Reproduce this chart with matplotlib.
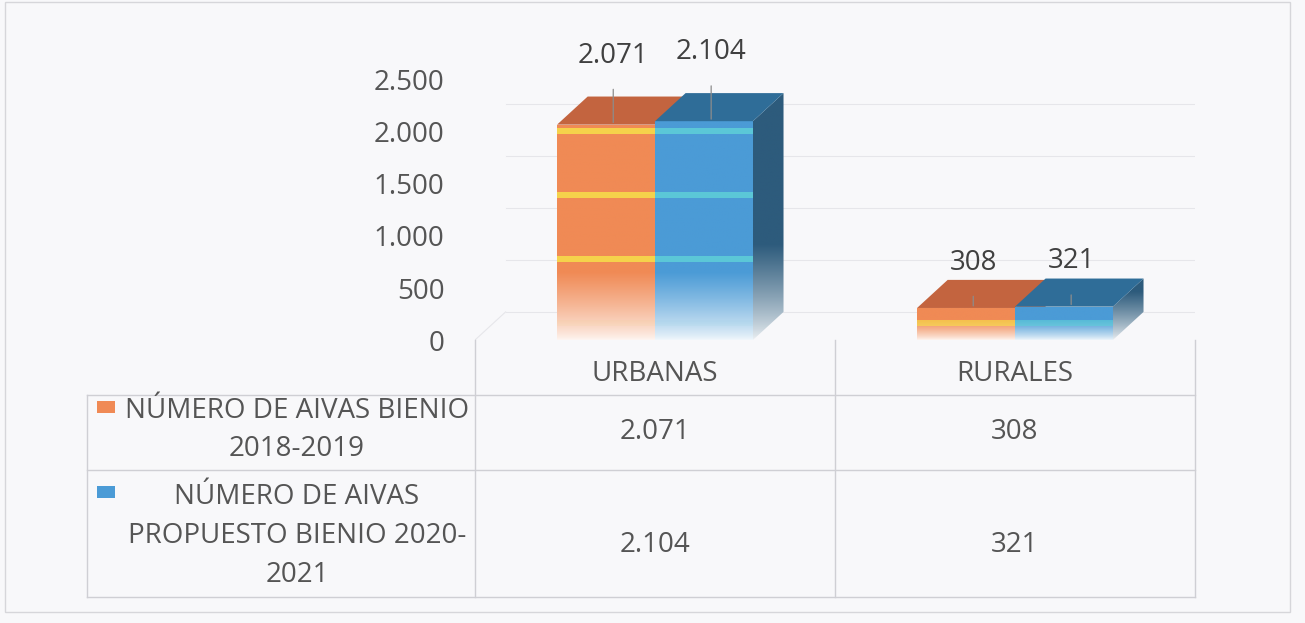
import matplotlib
matplotlib.use("Agg")
import matplotlib.pyplot as plt
import numpy as np
from matplotlib.patches import Polygon, Rectangle
from matplotlib.lines import Line2D
from matplotlib.colors import to_rgb
from matplotlib.ticker import FuncFormatter

# data
categories = ["URBANAS", "RURALES"]
series_names = ["NÚMERO DE AIVAS BIENIO\n2018-2019",
                "NÚMERO DE AIVAS\nPROPUESTO BIENIO 2020-\n2021"]
aivas_2018_2019 = [2071, 308]
aivas_2020_2021 = [2104, 321]
yticks = [0, 500, 1000, 1500, 2000, 2500]

plt.rcParams['font.family'] = ['Open Sans', 'DejaVu Sans']
W, H = 1305, 623
fig = plt.figure(figsize=(W / 100, H / 100), dpi=100)
fig.patch.set_facecolor('#f8f8fa')

def fx(px):
    return px / W

def fy(py):
    return 1 - py / H

def fmt(v):
    return f"{int(v):,}".replace(",", ".")

# plot area in pixels: x 475..1195, y 80 (2500) .. 340 (0)
ax = fig.add_axes([fx(475), fy(340), fx(1195) - fx(475), fy(80) - fy(340)])
ax.set_facecolor('none')
for s in ax.spines.values():
    s.set_visible(False)

text_col = '#555555'
grid_col = '#e6e6ea'
FS = 20
dx, dy = 0.085, 270          # 3d depth in data units
bw = 0.272                   # single bar width

# back wall gridlines and floor edge
for v in yticks:
    ax.plot([dx, 2 + dx], [v + dy, v + dy], color=grid_col, lw=0.8, zorder=0)
ax.plot([0, dx], [0, dy], color=grid_col, lw=0.8, zorder=0)


def fade_curve(y, fade_to):
    t = np.clip(y / fade_to, 0, 1) ** 0.8
    return 0.08 + 0.92 * t


def shade(verts, color, fade_to, z):
    poly = Polygon(verts, closed=True, facecolor='none', edgecolor='none')
    ax.add_patch(poly)
    xs = [p[0] for p in verts]
    ys = [p[1] for p in verts]
    y0, y1 = min(ys), max(ys)
    yy = np.linspace(y0, y1, 300)
    mix = fade_curve(yy, fade_to)
    base = np.array(to_rgb(color))
    rgb = (1 - mix[:, None]) + base[None, :] * mix[:, None]
    im = ax.imshow(rgb[:, None, :], extent=(min(xs), max(xs), y0, y1),
                   origin='lower', aspect='auto', zorder=z, interpolation='bilinear')
    im.set_clip_path(poly)


def bar3d(x0, h, front, top, side, stripe, z):
    x1 = x0 + bw
    fade = min(650, 0.6 * h)
    shade([(x0, 0), (x1, 0), (x1, h), (x0, h)], front, fade, z)
    shade([(x1, 0), (x1 + dx, dy), (x1 + dx, h + dy), (x1, h)], side, fade + dy, z - 0.5)
    ax.add_patch(Polygon([(x0, h), (x1, h), (x1 + dx, h + dy), (x0 + dx, h + dy)],
                         closed=True, facecolor=top, edgecolor='none', zorder=z))
    # glossy bands of the original rendering
    lvl = 163
    while lvl < h - 30:
        a = 0.85 * float(fade_curve(np.array([lvl]), fade)[0]) ** 3
        ax.add_patch(Rectangle((x0, lvl - 28), bw, 56, facecolor=stripe,
                               edgecolor='none', alpha=a, zorder=z + 0.1))
        lvl += 615


series = [
    (aivas_2018_2019, '#f08a55', '#c3643f', '#b85a35', '#f7e04a', -bw),
    (aivas_2020_2021, '#4b9bd6', '#2f6d98', '#2d5b7c', '#5fd0d8', 0.0),
]
for i, c in enumerate(categories):
    cx = i + 0.5
    for si, (vals, front, top, side, stripe, off) in enumerate(series):
        h = vals[i]
        z = 3 + si * 2 - i * 4 + 8
        bar3d(cx + off, h, front, top, side, stripe, z)
        xc = cx + off + bw / 2 + 0.02
        ax.annotate(fmt(h), xy=(xc, h + 20), xytext=(0, 48 if h > 1000 else 31),
                    textcoords='offset points', ha='center', va='center',
                    fontsize=FS, color='#404040', annotation_clip=False,
                    arrowprops=dict(arrowstyle='-', color='#8c8c8c', lw=0.9,
                                    shrinkA=12, shrinkB=0), zorder=30)

ax.set_xlim(0, 2)
ax.set_ylim(0, 2500)
ax.set_xticks([])
ax.set_yticks(yticks)
ax.yaxis.set_major_formatter(FuncFormatter(lambda v, p: fmt(v)))
ax.tick_params(axis='y', length=0, pad=22, labelsize=FS, labelcolor=text_col)

# data table
lc = '#cfcfd4'

def hline(y, x0, x1):
    fig.add_artist(Line2D([fx(x0), fx(x1)], [fy(y), fy(y)], color=lc, lw=1.0))

def vline(x, y0, y1):
    fig.add_artist(Line2D([fx(x), fx(x)], [fy(y0), fy(y1)], color=lc, lw=1.0))

hline(395, 87, 1195)
hline(470, 87, 1195)
hline(597, 87, 1195)
vline(87, 395, 597)
vline(475, 340, 597)
vline(835, 340, 597)
vline(1195, 340, 597)

# outer chart frame
fig.add_artist(Rectangle((fx(5), fy(612)), fx(1290) - fx(5), fy(2) - fy(612),
                         transform=fig.transFigure, fill=False, edgecolor='#d6d6da', lw=1.0))

col_x = [655, 1015]
for i, c in enumerate(categories):
    fig.text(fx(col_x[i]), fy(374), c, ha='center', va='center', fontsize=FS, color=text_col)
    fig.text(fx(col_x[i]), fy(432), fmt(aivas_2018_2019[i]),
             ha='center', va='center', fontsize=FS, color=text_col)
    fig.text(fx(col_x[i]), fy(545), fmt(aivas_2020_2021[i]),
             ha='center', va='center', fontsize=FS, color=text_col)

row_y = [430, 536]
key_y = [407, 492]
key_cols = ['#f08a55', '#4b9bd6']
for r in range(2):
    fig.text(fx(297), fy(row_y[r]), series_names[r], ha='center', va='center',
             fontsize=FS, color=text_col, linespacing=1.5)
    fig.add_artist(Rectangle((fx(97), fy(key_y[r] + 6)), fx(18), 12 / H,
                             transform=fig.transFigure, facecolor=key_cols[r],
                             edgecolor='none'))

fig.savefig('out.png', dpi=100, facecolor=fig.get_facecolor())
